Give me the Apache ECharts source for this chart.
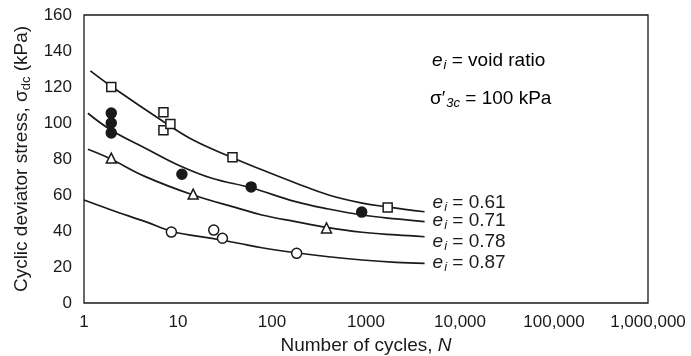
<!DOCTYPE html>
<html>
<head>
<meta charset="utf-8">
<script src="https://cdn.jsdelivr.net/npm/echarts@6/dist/echarts.min.js"></script>
<style>
html,body{margin:0;padding:0;background:#fff;}
#chart{width:691px;height:356px;}
</style>
</head>
<body>
<div id="chart"></div>
<script>
// Void ratio labels
const voidRatios = ['0.61', '0.71', '0.78', '0.87'];

// Fitted curves (N, stress)
const curveN061 = [1.17, 2, 6.9, 14.5, 37, 78, 178, 400, 910, 1740, 4200];
const curveV061 = [129, 120, 101, 90.5, 81, 74, 66.7, 60, 55.5, 53.3, 50.7];
const curveN071 = [1.1, 1.95, 4.5, 10, 23, 60, 178, 400, 910, 2090, 4200];
const curveV071 = [105.4, 96, 86, 76.7, 69.3, 64, 56.3, 52.2, 48.9, 46.7, 45.2];
const curveN078 = [1.1, 1.86, 4.5, 14.5, 44, 78, 178, 380, 910, 2090, 4200];
const curveV078 = [85.4, 80.4, 70.2, 60, 52.6, 48.9, 45.2, 42, 39.3, 37.8, 36.8];
const curveN087 = [1, 1.95, 4.5, 8.9, 23, 44, 78, 180, 400, 910, 2090, 4200];
const curveV087 = [57.2, 51.7, 45.2, 39.6, 35.9, 33.2, 30.7, 27.9, 25.7, 23.9, 22.6, 22];

// Test points
const sqN = [1.95, 7, 7, 8.3, 38, 1700];
const sqV = [120, 106, 96, 99.5, 81, 53];
const dotN = [1.95, 1.95, 1.95, 11, 60, 900];
const dotV = [105.5, 100, 94.5, 71.5, 64.5, 50.5];
const triN = [1.95, 14.5, 380];
const triV = [80.5, 60.5, 41.7];
const ringN = [8.5, 24, 29.7, 183];
const ringV = [39.4, 40.5, 36, 27.6];

// Axis tick labels
const xTickLabels = {1: '1', 10: '10', 100: '100', 1000: '1000', 10000: '10,000', 100000: '100,000', 1000000: '1,000,000'};
const yTicks = [0, 20, 40, 60, 80, 100, 120, 140, 160];

const zip = (a, b) => a.map((v, i) => [v, b[i]]);
const FONT = '"Liberation Sans", Arial, sans-serif';
const INK = '#1a1a1a';

const labelRich = {
  e: {fontFamily: FONT, fontSize: 19, fontStyle: 'italic', color: INK},
  i: {fontFamily: FONT, fontSize: 13, fontStyle: 'italic', color: INK, verticalAlign: 'bottom', padding: [9, 0, 0, 1]},
  t: {fontFamily: FONT, fontSize: 19, color: INK}
};

const curves = [
  {n: curveN061, v: curveV061, off: [2, -9]},
  {n: curveN071, v: curveV071, off: [2, -1]},
  {n: curveN078, v: curveV078, off: [2, 5]},
  {n: curveN087, v: curveV087, off: [2, -1]}
];

const series = curves.map((c, k) => ({
  type: 'line',
  data: zip(c.n, c.v),
  smooth: 0.4,
  symbol: 'none',
  lineStyle: {color: INK, width: 1.7},
  silent: true,
  z: 2,
  endLabel: {
    show: true,
    offset: c.off,
    distance: 6,
    formatter: '{e|e}{i|i}{t| = ' + voidRatios[k] + '}',
    rich: labelRich
  }
}));

const mk = (data, symbol, fill, size) => ({
  type: 'scatter',
  data: data,
  symbol: symbol,
  symbolSize: size,
  itemStyle: {color: fill, borderColor: INK, borderWidth: 1.5, opacity: 1},
  z: 5
});

series.push(mk(zip(sqN, sqV), 'rect', '#fff', 9));
series.push(mk(zip(dotN, dotV), 'circle', INK, 10));
series.push(mk(zip(triN, triV), 'triangle', '#fff', 10));
series.push(mk(zip(ringN, ringV), 'circle', '#fff', 10));

const chart = echarts.init(document.getElementById('chart'), null, {renderer: 'canvas'});
chart.setOption({
  animation: false,
  backgroundColor: '#fff',
  grid: {left: 84, right: 43, top: 15, bottom: 53, show: true, borderColor: INK, borderWidth: 1.3, backgroundColor: 'transparent', containLabel: false, outerBoundsMode: 'none'},
  xAxis: {
    type: 'log',
    logBase: 10,
    min: 1,
    max: 1000000,
    axisLine: {show: false},
    axisTick: {show: false},
    splitLine: {show: false},
    axisLabel: {
      fontFamily: FONT, fontSize: 17, color: INK, margin: 11,
      formatter: v => xTickLabels[Math.round(v)] || ''
    },
    name: '{a|Number of cycles, }{n|N}',
    nameLocation: 'middle',
    nameGap: 26,
    nameTextStyle: {
      rich: {
        a: {fontFamily: FONT, fontSize: 19, color: INK},
        n: {fontFamily: FONT, fontSize: 19, color: INK, fontStyle: 'italic'}
      }
    }
  },
  yAxis: {
    type: 'value',
    min: 0,
    max: 160,
    interval: 20,
    axisLine: {show: false},
    axisTick: {show: false},
    splitLine: {show: false},
    axisLabel: {fontFamily: FONT, fontSize: 17, color: INK, margin: 12},
    name: '{a|Cyclic deviator stress, σ}{s|dc}{a| (kPa)}',
    nameLocation: 'middle',
    nameGap: 51,
    nameTextStyle: {
      rich: {
        a: {fontFamily: FONT, fontSize: 19, color: INK},
        s: {fontFamily: FONT, fontSize: 13, color: INK, verticalAlign: 'bottom', padding: [8, 0, 0, 0]}
      }
    }
  },
  graphic: [
    {
      type: 'text', left: 432, top: 51,
      style: {
        text: '{e|e}{i|i}{t| = void ratio}',
        rich: labelRich
      }
    },
    {
      type: 'text', left: 430, top: 89,
      style: {
        text: "{t|σ′}{i|3c}{t| = 100 kPa}",
        rich: labelRich
      }
    }
  ],
  series: series
});
</script>
</body>
</html>
